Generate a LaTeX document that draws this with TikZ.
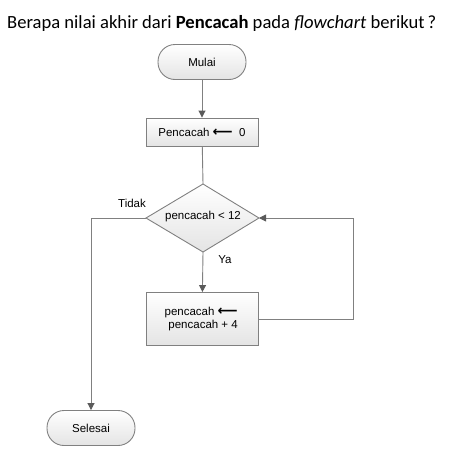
\documentclass[tikz,border=0pt]{standalone}
\usepackage{fontspec}
\setmainfont{Carlito}
\newfontfamily\arialf{Liberation Sans}
\newfontfamily\symf{DejaVu Sans}
\usetikzlibrary{arrows.meta}
\definecolor{lngray}{RGB}{128,128,128}
\definecolor{tipgray}{RGB}{90,90,90}
\definecolor{fillbot}{RGB}{228,228,228}
\tikzset{
  flowbox/.style={draw=lngray, line width=0.9pt, top color=white, bottom color=fillbot,
    font=\arialf\fontsize{11.5}{13.5}\selectfont, inner sep=0pt},
  procbox/.style={flowbox, rectangle, minimum width=112pt, minimum height=28pt},
  termbox/.style={flowbox, rectangle, rounded corners=17pt, minimum width=88pt, minimum height=35pt},
  flowline/.style={draw=lngray, line width=0.9pt},
  flowarrow/.style={flowline, -{Triangle[width=7pt,length=7pt,fill=tipgray,color=tipgray]}},
  lbl/.style={font=\arialf\fontsize{11.5}{13.5}\selectfont, inner sep=0pt}
}
\newcommand{\larr}{{\symf\bfseries\fontsize{14}{14}\selectfont ⟵}}
\begin{document}
\begin{tikzpicture}[x=1pt,y=-1pt]
\useasboundingbox (0,0) rectangle (468,461);
\node[font=\fontsize{18.6}{21}\selectfont, anchor=base west, inner sep=0pt] (title) at (7,28)
  {Berapa nilai akhir dari \textbf{Pencacah} pada \textit{flowchart} berikut\,?};
\node[termbox] (start) at (202,62) {Mulai};
\node[procbox] (init) at (202,132) {Pencacah \larr\ \ 0};
\path[flowbox] (203,184) coordinate (dtop) -- (259,218) coordinate (dright)
  -- (203,252) coordinate (dbot) -- (146,218) coordinate (dleft) -- cycle;
\node[lbl] (cond) at (203,217) {pencacah < 12};
\node[procbox, minimum height=53pt] (inc) at (202,319) {};
\node[lbl, align=right, anchor=east] (inctext) at (238,319) {pencacah \larr\\pencacah + 4};
\node[termbox] (stop) at (91,428) {Selesai};
\node[lbl] (tidak) at (132,203) {Tidak};
\node[lbl] (ya) at (225,260) {Ya};
\coordinate (loopR1) at (353,319);
\coordinate (loopR2) at (353,218);
\coordinate (leftC) at (91,218);
\draw[flowarrow] (start) -- (init);
\draw[flowline] (init) -- (dtop);
\draw[flowarrow] (dbot) -- (inc);
\draw[flowarrow] (inc.east) -- (loopR1) -- (loopR2) -- (dright);
\draw[flowarrow] (dleft) -- (leftC) -- (stop.north);
\end{tikzpicture}
\end{document}
